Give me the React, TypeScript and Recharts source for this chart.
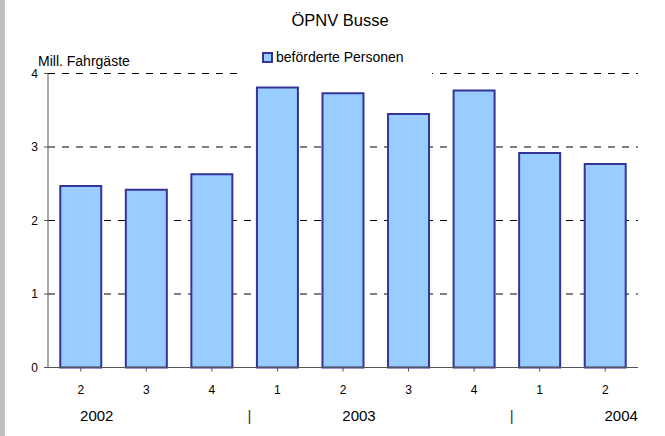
import React from 'react';
import {
  BarChart,
  Bar,
  XAxis,
  YAxis,
  CartesianGrid,
  Legend
} from 'recharts';

const quarters = ['2', '3', '4', '1', '2', '3', '4', '1', '2'];
const years = ['2002', '', '', '', '2003', '', '', '', '2004'];
const passengers = [2.47, 2.42, 2.63, 3.81, 3.73, 3.45, 3.77, 2.92, 2.77];
const yTicks = [0, 1, 2, 3, 4];

const chartData = quarters.map((q, i) => ({
  quarter: q,
  year: years[i],
  value: passengers[i]
}));

const FONT = '"Liberation Sans", Arial, sans-serif';

function YearTick(props: any) {
  const { x, y, payload, index } = props;
  const isLastQuarter = quarters[index] === '4';
  return (
    <g>
      {payload.value ? (
        <text x={x + 16} y={y} dy="0.71em" textAnchor="middle" fontSize={15} fill="#000" fontFamily={FONT}>
          {payload.value}
        </text>
      ) : null}
      {isLastQuarter ? (
        <text x={x + 37.5} y={y} dy="0.71em" textAnchor="middle" fontSize={15} fill="#333" fontFamily={FONT}>
          |
        </text>
      ) : null}
    </g>
  );
}

function LegendBox(props: any) {
  const item = props.payload && props.payload[0];
  return (
    <div style={{ position: 'relative', width: 195, height: 28, background: '#fff', fontFamily: FONT }}>
      <span
        style={{
          position: 'absolute',
          left: 25,
          top: 4,
          width: 11,
          height: 11,
          boxSizing: 'border-box',
          border: '2px solid #333399',
          background: '#99ccff'
        }}
      />
      <span style={{ position: 'absolute', left: 39, top: 1, fontSize: 14, lineHeight: '16px', color: '#000', whiteSpace: 'nowrap' }}>
        {item ? item.value : ''}
      </span>
    </div>
  );
}

export default function App() {
  return (
    <div style={{ position: 'absolute', left: 0, top: 0, width: 665, height: 436, background: '#fff' }}>
      <div style={{ position: 'absolute', left: 0, top: 0, width: 5, height: 436, background: '#c0c0c0' }} />
      <BarChart
        width={665}
        height={436}
        data={chartData}
        margin={{ top: 73.5, right: 27, bottom: 8.5, left: 0 }}
        barCategoryGap="18.7%"
      >
        <text x={340} y={26} textAnchor="middle" fontSize={16.5} fill="#000" fontFamily={FONT}>
          ÖPNV Busse
        </text>
        <text x={38} y={66} textAnchor="start" fontSize={14} fill="#000" fontFamily={FONT}>
          Mill. Fahrgäste
        </text>
        <CartesianGrid vertical={false} stroke="#000" strokeDasharray="7 7" />
        <XAxis
          dataKey="quarter"
          height={30}
          interval={0}
          tickSize={4}
          tickMargin={14}
          axisLine={{ stroke: '#555' }}
          tickLine={{ stroke: '#555' }}
          tick={{ fill: '#000', fontSize: 12, fontFamily: FONT }}
        />
        <XAxis
          xAxisId="yr"
          dataKey="year"
          height={30}
          interval={0}
          axisLine={false}
          tickLine={false}
          tickSize={0}
          tickMargin={13}
          tick={<YearTick />}
        />
        <YAxis
          width={48}
          domain={[0, 4]}
          ticks={yTicks}
          interval={0}
          tickSize={4}
          tickMargin={6}
          axisLine={{ stroke: '#555' }}
          tickLine={{ stroke: '#555' }}
          tick={{ fill: '#000', fontSize: 12, fontFamily: FONT }}
        />
        <Legend
          layout="horizontal"
          verticalAlign="middle"
          align="center"
          wrapperStyle={{ top: 48, left: 237, width: 195, height: 28 }}
          content={<LegendBox />}
        />
        <Bar
          dataKey="value"
          name="beförderte Personen"
          fill="#99ccff"
          stroke="#333399"
          strokeWidth={2}
          isAnimationActive={false}
        />
      </BarChart>
    </div>
  );
}
